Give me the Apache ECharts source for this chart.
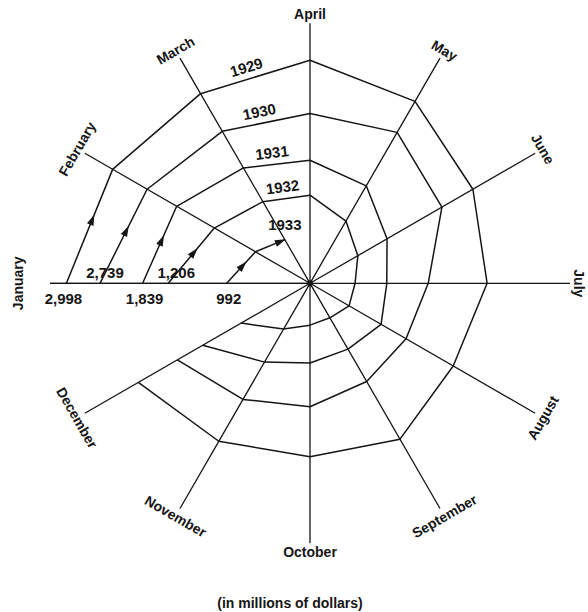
<!DOCTYPE html>
<html>
<head>
<meta charset="utf-8">
<script src="https://cdn.jsdelivr.net/npm/echarts@6/dist/echarts.min.js"></script>
<style>
html,body{margin:0;padding:0;background:#ffffff;}
#chart{width:588px;height:612px;}
</style>
</head>
<body>
<div id="chart"></div>
<script>
// ---- data (millions of dollars, read from the spiral) ----
const months = ['January','February','March','April','May','June','July','August','September','October','November','December'];
const years = ['1929','1930','1931','1932','1933'];
const v1929 = [2998, 2805, 2695, 2745, 2585, 2315, 2180, 2035, 2215, 2135, 2245, 2440];
const v1930 = [2585, 2315, 2160, 2090, 2145, 1875, 1455, 1365, 1395, 1520, 1650, 1885];
const v1931 = [2060, 1895, 1640, 1515, 1385, 1095, 945, 1010, 935, 980, 1120, 1525];
const v1932 = [1745, 1360, 1160, 1085, 885, 680, 555, 555, 490, 515, 650, 980];
const v1933 = [1025, 775, 620];
const januaryLabels = ['2,998', '2,739', '1,839', '1,206', '992'];
const unitNote = '(in millions of dollars)';

// ---- layout / style ----
const INK = '#151515';
const FONT = 'Liberation Sans, Arial, Helvetica, sans-serif';
const R_MAX = 3200;          // value at the end of the spokes
const JAN_SPOKE = 3495;      // January spoke is drawn a bit longer
const MONTH_LABEL_R = 3310;
const JAN_LABEL_R = 3600;

const yearValues = [v1929, v1930, v1931, v1932, v1933];

function spiralData(y) {
  const vals = yearValues[y];
  const d = vals.map((v, i) => [v, i]);
  if (y + 1 < yearValues.length) d.push([yearValues[y + 1][0], 0]); // continue into next January
  return d;
}

const series = years.map((yr, y) => ({
  name: yr,
  type: 'line',
  coordinateSystem: 'polar',
  data: spiralData(y),
  symbol: 'none',
  clip: false,
  lineStyle: { color: INK, width: 1.5 },
  z: 3
}));

series.push({
  type: 'line', coordinateSystem: 'polar', clip: false, symbol: 'none',
  data: [[0, 0], [JAN_SPOKE, 0]],
  lineStyle: { color: INK, width: 1.3 }, z: 2, silent: true
});
series.push({
  type: 'scatter', coordinateSystem: 'polar', data: [[0, 0]],
  symbol: 'circle', symbolSize: 6, itemStyle: { color: INK }, z: 4, silent: true
});

const chart = echarts.init(document.getElementById('chart'), null, { renderer: 'svg' });
chart.setOption({
  animation: false,
  backgroundColor: '#ffffff',
  polar: { center: [310, 283.3], radius: 260 },
  angleAxis: {
    type: 'category',
    data: months,
    startAngle: 180,
    clockwise: true,
    boundaryGap: false,
    axisLine: { show: false },
    axisTick: { show: false },
    axisLabel: { show: false },
    splitLine: { show: true, lineStyle: { color: INK, width: 1.3 } }
  },
  radiusAxis: {
    type: 'value', min: 0, max: R_MAX,
    axisLine: { show: false }, axisTick: { show: false },
    axisLabel: { show: false }, splitLine: { show: false }
  },
  series: series
});

// ---- annotations positioned through the polar coordinate system ----
const px = (v, i) => chart.convertToPixel({ seriesIndex: 0 }, [v, i]);
const center = px(0, 0);
const graphics = [];

function text(str, x, y, rot, size, weight) {
  graphics.push({
    type: 'text', x: x, y: y, rotation: rot || 0, z: 10,
    style: {
      text: str, fill: INK,
      font: (weight || 'bold') + ' ' + size + 'px ' + FONT,
      align: 'center', verticalAlign: 'middle',
      textAlign: 'center', textVerticalAlign: 'middle'
    }
  });
}

function arrow(p0, p1, t, len, wid) {
  const dx = p1[0] - p0[0], dy = p1[1] - p0[1];
  const L = Math.hypot(dx, dy);
  const ux = dx / L, uy = dy / L, nx = -uy, ny = ux;
  const cx = p0[0] + dx * t, cy = p0[1] + dy * t;
  const tip = [cx + ux * len / 2, cy + uy * len / 2];
  const bx = cx - ux * len / 2, by = cy - uy * len / 2;
  graphics.push({
    type: 'polygon', z: 9,
    shape: { points: [tip, [bx + nx * wid / 2, by + ny * wid / 2], [bx - nx * wid / 2, by - ny * wid / 2]] },
    style: { fill: INK }
  });
}

// arrows on each January -> February segment
yearValues.forEach((vals, y) => {
  arrow(px(vals[0], 0), px(vals[1], 1), 0.56, 11, 7);
});
// arrow at the end of the spiral
{
  const a = px(v1933[1], 1), b = px(v1933[2], 2);
  arrow(a, b, 0.86, 11, 7);
}

// January value labels (alternating below / above the axis)
const janDx = [-3, 5, 2, 8, 2];
januaryLabels.forEach((lab, y) => {
  const p = px(yearValues[y][0], 0);
  const below = y % 2 === 0;
  text(lab, p[0] + janDx[y], p[1] + (below ? 15 : -11), 0, 15);
});

// year labels along the March -> April segments
years.forEach((yr, y) => {
  const vals = yearValues[y];
  if (vals.length > 3) {
    const m = px(vals[2], 2), a = px(vals[3], 3);
    const dx = a[0] - m[0], dy = a[1] - m[1];
    const L = Math.hypot(dx, dy);
    let nx = -dy / L, ny = dx / L;
    const mx = m[0] + dx * 0.45, my = m[1] + dy * 0.45;
    if ((mx - center[0]) * nx + (my - center[1]) * ny < 0) { nx = -nx; ny = -ny; }
    text(yr, mx + nx * 12, my + ny * 12, -Math.atan2(dy, dx), 15);
  } else {
    const m = px(vals[vals.length - 1], vals.length - 1);
    text(yr, m[0], m[1] - 15, 0, 15);
  }
});

// month labels at the ends of the spokes, set tangentially
months.forEach((mo, i) => {
  const p = px(i === 0 ? JAN_LABEL_R : MONTH_LABEL_R, i);
  let theta = 180 - 30 * i;            // math angle of the spoke
  if (theta <= -180) theta += 360;
  let rotDeg = (theta >= 0 && theta <= 180) ? theta - 90 : theta + 90;
  text(mo, p[0], p[1], rotDeg * Math.PI / 180, 14);
});

// unit note
text(unitNote, 290, 603, 0, 14);

chart.setOption({ graphic: { elements: graphics } });
</script>
</body>
</html>
